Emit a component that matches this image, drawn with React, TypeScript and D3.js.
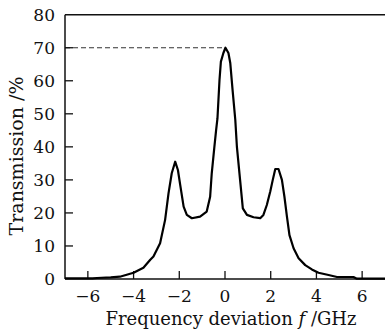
import React from "react";
import * as d3 from "d3";

const freq = [-7, -6.5, -5.8, -5.6, -5.0, -4.6, -4.0, -3.57, -3.27, -3.13, -2.9, -2.84, -2.62, -2.47, -2.33, -2.18, -2.06, -1.96, -1.81, -1.67, -1.45, -1.09, -0.8, -0.65, -0.58, -0.47, -0.39, -0.33, -0.24, -0.18, -0.07, 0.02, 0.15, 0.23, 0.33, 0.45, 0.52, 0.66, 0.78, 0.96, 1.25, 1.54, 1.68, 1.83, 1.98, 2.09, 2.2, 2.34, 2.49, 2.6, 2.71, 2.82, 3.0, 3.22, 3.51, 3.8, 4.09, 4.53, 4.9, 5.62, 5.77, 6.5, 7];
const transmission = [0.2, 0.2, 0.2, 0.3, 0.5, 0.7, 1.9, 3.4, 5.8, 6.8, 10.0, 10.8, 17.9, 26, 32, 35.5, 33, 28.5, 21.9, 19.4, 18.4, 18.9, 20.4, 24.9, 32, 39.6, 45, 48.6, 60.3, 65.8, 68.4, 70.0, 68.4, 65.4, 57.3, 48.2, 40.1, 30, 21.4, 19.4, 18.7, 18.4, 19.4, 22.4, 26.5, 30, 33.3, 33.3, 30, 24.9, 18.9, 13.3, 9.3, 6.3, 4.2, 2.9, 1.9, 1.2, 0.6, 0.6, 0.1, 0.1, 0.1];
const xTicks = [-6, -4, -2, 0, 2, 4, 6];
const yTicks = [0, 10, 20, 30, 40, 50, 60, 70, 80];
const peakValue = 70;
const xLabel = "Frequency deviation ";
const yLabel = "Transmission /%";

export default function App() {
  const W = 385, H = 332;
  const left = 65, right = 385, top = 14.7, bottom = 279;
  const x = d3.scaleLinear().domain([-7, 7]).range([left, right]);
  const y = d3.scaleLinear().domain([0, 80]).range([bottom, top]);
  const pts: [number, number][] = freq.map((f, i) => [f, transmission[i]]);
  const line = d3.line<[number, number]>().x(d => x(d[0])).y(d => y(d[1])).curve(d3.curveLinear);
  const font = "'DejaVu Serif', serif";
  const fmt = (v: number) => (v < 0 ? "\u2212" + Math.abs(v) : String(v));
  return (
    <svg width={W} height={H} style={{ position: "absolute", left: 0, top: 0, background: "#fff" }}>
      <rect x={0} y={0} width={W} height={H} fill="#fff" />
      <line x1={left} x2={x(0)} y1={y(peakValue)} y2={y(peakValue)} stroke="#333" strokeWidth={1.1} strokeDasharray="5,3" />
      <line x1={left} x2={left} y1={top} y2={bottom} stroke="#111" strokeWidth={1.5} />
      <line x1={left} x2={right} y1={bottom} y2={bottom} stroke="#111" strokeWidth={1.5} />
      <line x1={left} x2={right} y1={top} y2={top} stroke="#111" strokeWidth={1.5} />
      {yTicks.map(t => (
        <g key={"y" + t}>
          {t > 0 && t < 80 && <line x1={left} x2={left + 8} y1={y(t)} y2={y(t)} stroke="#111" strokeWidth={1.3} />}
          <text x={55} y={y(t)} dy="0.36em" textAnchor="end" fontFamily={font} fontSize={17} fill="#111">{t}</text>
        </g>
      ))}
      {xTicks.map(t => (
        <g key={"x" + t}>
          <line x1={x(t)} x2={x(t)} y1={bottom} y2={bottom - 8} stroke="#111" strokeWidth={1.3} />
          <text x={x(t)} y={302} textAnchor="middle" fontFamily={font} fontSize={17} fill="#111">{fmt(t)}</text>
        </g>
      ))}
      <text x={231} y={325} textAnchor="middle" fontFamily={font} fontSize={18} fill="#111">
        {xLabel}<tspan fontStyle="italic">f</tspan> /GHz
      </text>
      <text transform={`translate(23,156) rotate(-90)`} textAnchor="middle" fontFamily={font} fontSize={19} fill="#111">{yLabel}</text>
      <path d={line(pts) || ""} fill="none" stroke="#000" strokeWidth={2.2} strokeLinejoin="round" />
    </svg>
  );
}
